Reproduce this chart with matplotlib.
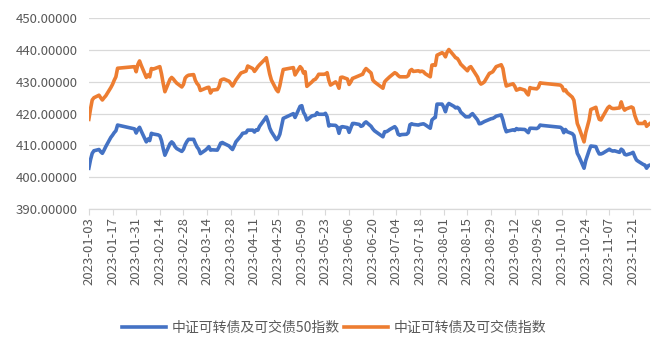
import matplotlib
matplotlib.use("Agg")
import matplotlib.pyplot as plt
import matplotlib.dates as mdates
import matplotlib.ticker as mticker
import pandas as pd

plt.rcParams['font.family'] = ['Noto Sans CJK SC', 'DejaVu Sans']

dates = [
    "2023-01-03", "2023-01-04", "2023-01-05", "2023-01-06", "2023-01-09", "2023-01-10", "2023-01-11", "2023-01-12", "2023-01-13",
    "2023-01-16", "2023-01-17", "2023-01-18", "2023-01-19", "2023-01-20", "2023-01-30", "2023-01-31",
    "2023-02-01", "2023-02-02", "2023-02-03", "2023-02-06", "2023-02-07", "2023-02-08", "2023-02-09", "2023-02-10",
    "2023-02-13", "2023-02-14", "2023-02-15", "2023-02-16", "2023-02-17", "2023-02-20", "2023-02-21", "2023-02-22",
    "2023-02-23", "2023-02-24", "2023-02-27", "2023-02-28",
    "2023-03-01", "2023-03-02", "2023-03-03", "2023-03-06", "2023-03-07", "2023-03-08", "2023-03-09", "2023-03-10",
    "2023-03-13", "2023-03-14", "2023-03-15", "2023-03-16", "2023-03-17", "2023-03-20", "2023-03-21", "2023-03-22",
    "2023-03-23", "2023-03-24", "2023-03-27", "2023-03-28", "2023-03-29", "2023-03-30", "2023-03-31",
    "2023-04-03", "2023-04-04", "2023-04-06", "2023-04-07", "2023-04-10", "2023-04-11", "2023-04-12", "2023-04-13",
    "2023-04-14", "2023-04-17", "2023-04-18", "2023-04-19", "2023-04-20", "2023-04-21", "2023-04-24", "2023-04-25",
    "2023-04-26", "2023-04-27", "2023-04-28",
    "2023-05-04", "2023-05-05", "2023-05-08", "2023-05-09", "2023-05-10", "2023-05-11", "2023-05-12", "2023-05-15",
    "2023-05-16", "2023-05-17", "2023-05-18", "2023-05-19", "2023-05-22", "2023-05-23", "2023-05-24", "2023-05-25",
    "2023-05-26", "2023-05-29", "2023-05-30", "2023-05-31",
    "2023-06-01", "2023-06-02", "2023-06-05", "2023-06-06", "2023-06-07", "2023-06-08", "2023-06-09", "2023-06-12",
    "2023-06-13", "2023-06-14", "2023-06-15", "2023-06-16", "2023-06-19", "2023-06-20", "2023-06-21", "2023-06-26",
    "2023-06-27", "2023-06-28", "2023-06-29", "2023-06-30",
    "2023-07-03", "2023-07-04", "2023-07-05", "2023-07-06", "2023-07-07", "2023-07-10", "2023-07-11", "2023-07-12",
    "2023-07-13", "2023-07-14", "2023-07-17", "2023-07-18", "2023-07-19", "2023-07-20", "2023-07-21", "2023-07-24",
    "2023-07-25", "2023-07-26", "2023-07-27", "2023-07-28", "2023-07-31",
    "2023-08-01", "2023-08-02", "2023-08-03", "2023-08-04", "2023-08-07", "2023-08-08", "2023-08-09", "2023-08-10",
    "2023-08-11", "2023-08-14", "2023-08-15", "2023-08-16", "2023-08-17", "2023-08-18", "2023-08-21", "2023-08-22",
    "2023-08-23", "2023-08-24", "2023-08-25", "2023-08-28", "2023-08-29", "2023-08-30", "2023-08-31",
    "2023-09-01", "2023-09-04", "2023-09-05", "2023-09-06", "2023-09-07", "2023-09-08", "2023-09-11", "2023-09-12",
    "2023-09-13", "2023-09-14", "2023-09-15", "2023-09-18", "2023-09-19", "2023-09-20", "2023-09-21", "2023-09-22",
    "2023-09-25", "2023-09-26", "2023-09-27", "2023-09-28",
    "2023-10-09", "2023-10-10", "2023-10-11", "2023-10-12", "2023-10-13", "2023-10-16", "2023-10-17", "2023-10-18",
    "2023-10-19", "2023-10-20", "2023-10-23", "2023-10-24", "2023-10-25", "2023-10-26", "2023-10-27", "2023-10-30",
    "2023-10-31",
    "2023-11-01", "2023-11-02", "2023-11-03", "2023-11-06", "2023-11-07", "2023-11-08", "2023-11-09", "2023-11-10",
    "2023-11-13", "2023-11-14", "2023-11-15", "2023-11-16", "2023-11-17", "2023-11-20", "2023-11-21", "2023-11-22",
    "2023-11-23", "2023-11-24", "2023-11-27", "2023-11-28", "2023-11-29", "2023-11-30", "2023-12-01",
]

index50 = [
    402.8, 405.5, 407.5, 408.3, 408.7, 408.0, 407.5, 408.5, 409.6,
    412.5, 413.2, 414.0, 414.6, 416.4, 415.2, 413.9,
    415.0, 415.7, 414.5, 411.1, 412.0, 411.5, 413.8, 413.6,
    413.3, 413.0, 411.5, 409.0, 406.9, 410.5, 411.1, 410.6,
    409.6, 409.0, 408.1, 408.8,
    410.2, 411.2, 411.9, 411.9, 410.6, 409.5, 408.8, 407.4,
    408.5, 409.0, 409.6, 408.5, 408.6, 408.5, 409.5, 410.7,
    410.9, 410.6, 409.8, 409.2, 408.7, 409.8, 411.1,
    413.0, 413.8, 414.0, 414.8, 414.8, 414.2, 414.9, 414.8,
    416.0, 418.2, 419.0, 417.5, 415.5, 414.3, 411.8, 412.3,
    413.5, 416.0, 418.5,
    420.0, 418.8, 422.3, 422.5, 420.4, 419.5, 418.0, 419.3,
    419.4, 419.5, 420.3, 419.8, 419.8, 420.1, 419.0, 416.1,
    416.4, 416.3, 415.8, 413.8,
    415.7, 415.9, 415.6, 414.1, 415.5, 416.9, 416.9, 416.6,
    416.0, 416.2, 417.0, 417.4, 416.0, 415.2, 414.6, 412.7,
    414.3, 414.3, 414.6, 415.0,
    415.9, 415.2, 413.5, 413.2, 413.4, 413.5, 414.0, 416.5,
    416.8, 416.6, 416.4, 416.6, 416.7, 416.8, 416.5, 415.4,
    418.0, 418.5, 418.8, 423.0, 423.0,
    422.0, 420.6, 422.5, 423.2, 422.3, 421.8, 422.0, 421.6,
    420.5, 419.0, 419.0, 419.0, 419.6, 420.0, 418.0, 416.8,
    416.9, 417.2, 417.5, 418.2, 418.4, 418.5, 418.8,
    419.2, 419.6, 418.0, 415.8, 414.3, 414.5, 414.9, 414.7,
    415.3, 415.0, 415.1, 415.0, 414.5, 414.0, 415.4, 415.4,
    415.3, 415.6, 416.4, 416.3,
    415.7, 415.3, 414.0, 415.0, 414.3, 413.7, 413.1, 410.2,
    407.5, 406.5, 402.8, 405.2, 406.8, 408.4, 409.8, 409.6,
    408.3,
    407.3, 407.3, 407.5, 408.5, 408.8, 408.4, 408.2, 408.3,
    407.8, 408.8, 408.4, 407.2, 407.0, 407.5, 407.8, 406.5,
    405.4, 405.0, 404.0, 403.8, 402.8, 403.6, 403.8,
]

index_all = [
    418.2, 421.5, 424.3, 425.0, 425.8, 425.0, 424.3, 425.0, 425.6,
    428.2, 429.2, 430.5, 431.6, 434.3, 434.8, 433.2,
    435.5, 436.6, 435.2, 431.4, 432.2, 431.6, 434.2, 434.0,
    434.6, 434.8, 432.5, 429.5, 426.9, 430.8, 431.4, 430.9,
    430.2, 429.6, 428.4, 429.2,
    431.2, 431.8, 432.1, 432.3, 430.5, 429.5, 428.9, 427.3,
    428.0, 428.2, 428.3, 426.5, 427.4, 427.6, 428.5, 430.5,
    430.8, 430.9, 430.2, 429.5, 428.7, 429.6, 430.6,
    432.8, 433.0, 433.4, 435.0, 434.2, 433.3, 434.0, 434.8,
    435.4, 437.0, 437.6, 435.0, 432.5, 430.6, 427.5, 426.9,
    428.8, 431.5, 433.9,
    434.5, 432.2, 434.8, 434.2, 432.8, 433.2, 428.6, 430.0,
    430.6, 430.8, 431.5, 432.4, 432.4, 432.5, 432.9, 430.5,
    429.0, 430.0, 429.3, 428.0,
    431.4, 431.5, 430.9, 429.2, 430.0, 431.1, 431.3, 432.0,
    432.2, 432.4, 433.5, 434.2, 432.8, 430.6, 430.0, 428.0,
    430.0, 430.6, 431.1, 431.6,
    432.9, 432.6, 432.0, 431.6, 431.6, 431.6, 432.0, 433.5,
    433.9, 433.3, 433.5, 433.2, 433.4, 433.2, 432.6, 431.6,
    435.3, 435.4, 435.2, 438.4, 439.2,
    438.8, 437.9, 439.4, 440.2, 438.3, 437.6, 437.4, 436.6,
    435.6, 434.0, 433.5, 434.5, 434.8, 434.0, 431.5, 430.0,
    429.3, 429.6, 430.0, 432.7, 432.9, 433.2, 434.0,
    434.8, 435.4, 434.2, 431.0, 428.7, 428.9, 429.4, 428.6,
    427.4, 427.6, 427.9, 427.4, 426.5, 425.9, 428.2, 428.0,
    427.8, 428.3, 429.7, 429.6,
    429.0, 428.5, 427.2, 427.5, 426.6, 425.2, 424.2, 420.5,
    416.9, 415.6, 411.1, 414.0, 416.0, 418.0, 421.3, 422.0,
    419.8,
    418.2, 418.0, 419.0, 421.8, 422.3, 421.8, 421.6, 421.6,
    421.8, 423.7, 422.0, 421.1, 421.5, 422.1, 421.8, 419.5,
    418.0, 416.9, 416.9, 417.5, 416.0, 416.5, 416.9,
]

series_names = ["中证可转债及可交债50指数", "中证可转债及可交债指数"]
y_ticks = [390, 400, 410, 420, 430, 440, 450]

x = pd.to_datetime(dates)

fig = plt.figure(figsize=(6.68, 3.54), dpi=100)
ax = fig.add_axes([0.133, 0.410, 0.840, 0.538])

ax.plot(x, index50, color="#4472C4", lw=2.6, label=series_names[0], solid_joinstyle="round")
ax.plot(x, index_all, color="#ED7D31", lw=2.6, label=series_names[1], solid_joinstyle="round")

ax.set_ylim(390, 450)
ax.set_yticks(y_ticks)
ax.yaxis.set_major_formatter(mticker.FuncFormatter(lambda v, p: f"{v:.5f}"))
ax.set_xlim(pd.Timestamp("2023-01-03"), pd.Timestamp("2023-12-01"))
ticks = pd.date_range("2023-01-03", "2023-12-01", freq="14D")
ax.set_xticks(ticks)
ax.xaxis.set_major_formatter(mdates.DateFormatter("%Y-%m-%d"))

ax.grid(axis="y", color="#D9D9D9", lw=0.9)
ax.set_axisbelow(True)
for s in ["top", "right", "left"]:
    ax.spines[s].set_visible(False)
ax.spines["bottom"].set_color("#D9D9D9")
ax.spines["bottom"].set_linewidth(0.9)
ax.tick_params(axis="y", length=0, colors="#595959", labelsize=9.5, pad=8)
ax.tick_params(axis="x", length=4, color="#D9D9D9", colors="#595959", labelsize=9.5, rotation=90, pad=2)
for lbl in ax.get_xticklabels():
    lbl.set_color("#595959")

leg = fig.legend(loc="center", bbox_to_anchor=(0.5, 0.075), ncol=2, frameon=False,
                 fontsize=10, handlelength=3.2, handletextpad=0.4, columnspacing=0.3)
for t in leg.get_texts():
    t.set_color("#595959")

fig.savefig("out.png", dpi=100)
